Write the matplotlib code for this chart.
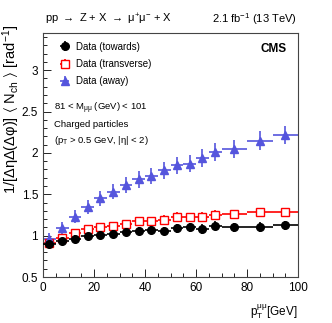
import numpy as np
import matplotlib
matplotlib.use("Agg")
import matplotlib.pyplot as plt
from matplotlib.ticker import MultipleLocator

plt.rcParams['font.family'] = ['Liberation Sans', 'DejaVu Sans']
plt.rcParams['mathtext.default'] = 'regular'

# bins in pT(mumu)
bin_lo = np.array([0, 5, 10, 15, 20, 25, 30, 35, 40, 45, 50, 55, 60, 65, 70, 80, 90])
bin_hi = np.array([5, 10, 15, 20, 25, 30, 35, 40, 45, 50, 55, 60, 65, 70, 80, 90, 100])

towards = [0.90, 0.93, 0.965, 0.99, 1.01, 1.02, 1.045, 1.055, 1.07, 1.055, 1.09, 1.10, 1.08, 1.12, 1.10, 1.105, 1.125]
towards_err = [0.04, 0.04, 0.045, 0.045, 0.045, 0.05, 0.05, 0.05, 0.05, 0.05, 0.055, 0.055, 0.055, 0.055, 0.055, 0.055, 0.055]

transverse = [0.91, 0.97, 1.035, 1.08, 1.11, 1.12, 1.145, 1.18, 1.18, 1.195, 1.23, 1.22, 1.23, 1.25, 1.26, 1.28, 1.28]
transverse_err = [0.04, 0.04, 0.045, 0.045, 0.045, 0.05, 0.05, 0.05, 0.05, 0.05, 0.055, 0.055, 0.055, 0.055, 0.055, 0.055, 0.055]

away = [0.96, 1.09, 1.23, 1.35, 1.45, 1.53, 1.61, 1.68, 1.72, 1.79, 1.85, 1.87, 1.94, 2.01, 2.045, 2.15, 2.22]
away_err = [0.07, 0.075, 0.08, 0.085, 0.09, 0.09, 0.095, 0.1, 0.1, 0.1, 0.105, 0.105, 0.11, 0.11, 0.11, 0.11, 0.11]

x = (bin_lo + bin_hi) / 2
xerr = (bin_hi - bin_lo) / 2

fig = plt.figure(figsize=(3.32, 3.23), dpi=100)
ax = fig.add_axes([43/332, 46/323, 255/332, 244/323])

e1 = ax.errorbar(x, towards, xerr=xerr, yerr=towards_err, fmt='o', color='black',
                 ms=5.5, elinewidth=1.2, capsize=0, zorder=3)
e2 = ax.errorbar(x, transverse, xerr=xerr, yerr=transverse_err, fmt='s', color='red',
                 mfc='white', mec='red', ms=5.5, elinewidth=1.2, capsize=0, zorder=2)
e3 = ax.errorbar(x, away, xerr=xerr, yerr=away_err, fmt='^', color='#5555dd',
                 ms=6, elinewidth=1.2, capsize=0, zorder=2)

ax.set_xlim(0, 100)
ax.set_ylim(0.5, 3.45)
ax.xaxis.set_major_locator(MultipleLocator(20))
ax.xaxis.set_minor_locator(MultipleLocator(5))
ax.yaxis.set_major_locator(MultipleLocator(0.5))
ax.yaxis.set_minor_locator(MultipleLocator(0.1))
ax.tick_params(which='both', direction='in', labelsize=8.5, width=0.6)
ax.tick_params(which='major', length=6)
ax.tick_params(which='minor', length=3)
ax.set_yticks([0.5, 1, 1.5, 2, 2.5, 3])
ax.set_yticklabels(['0.5', '1', '1.5', '2', '2.5', '3'])
for s in ax.spines.values():
    s.set_linewidth(0.8)
    s.set_color('#444444')

ax.legend([e1, e2, e3], ['Data (towards)', 'Data (transverse)', 'Data (away)'],
          loc='upper left', bbox_to_anchor=(0.02, 1.0), frameon=False,
          fontsize=7, handlelength=1.6, labelspacing=0.75, handletextpad=0.4)

ax.text(0.042, 0.69, r'81 < M$_{\mu\mu}$ (GeV) < 101', transform=ax.transAxes, fontsize=6.8, va='center')
ax.text(0.042, 0.625, 'Charged particles', transform=ax.transAxes, fontsize=6.8, va='center')
ax.text(0.042, 0.56, r'(p$_T$ > 0.5 GeV, |η| < 2)', transform=ax.transAxes, fontsize=6.8, va='center')
ax.text(0.955, 0.935, 'CMS', transform=ax.transAxes, fontsize=8.5, fontweight='bold',
        ha='right', va='center')

fig.text(45/332, 1 - 19/323, r'pp $\rightarrow$ Z + X $\rightarrow$ μ$^{+}$μ$^{-}$ + X', fontsize=8, va='center')
fig.text(297/332, 1 - 19/323, '2.1 fb$^{-1}$ (13 TeV)', fontsize=8, va='center', ha='right')

fig.text(11/332, 1 - 25/323, r'1/[ΔηΔ(Δφ)] $\langle$ N$_{ch}$ $\rangle$ [rad$^{-1}$]', rotation=90,
         fontsize=10.5, ha='center', va='top')
fig.text(298/332, 1 - 312/323, r'p$_{T}^{\mu\mu}$[GeV]', fontsize=8.5, ha='right', va='center')

fig.savefig('out.png', dpi=100)
